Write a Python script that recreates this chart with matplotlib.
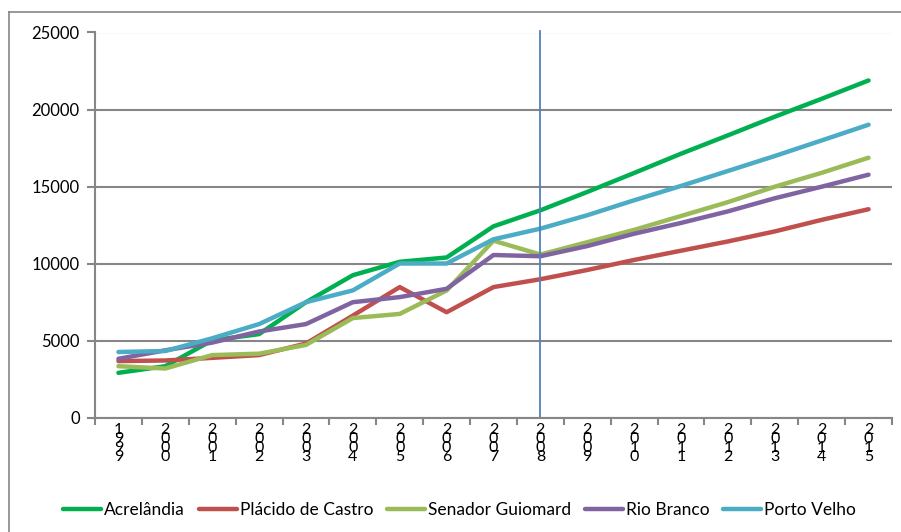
import matplotlib.pyplot as plt
from matplotlib.lines import Line2D

years = [str(y) for y in range(1999, 2016)]

acrelandia = [2930, 3360, 5040, 5440, 7510, 9260, 10130, 10410, 12430, 13470,
              14660, 15890, 17140, 18330, 19540, 20700, 21890]
placido = [3690, 3730, 3900, 4080, 4830, 6640, 8490, 6860, 8490, 9000,
           9600, 10250, 10850, 11450, 12100, 12850, 13540]
senador = [3360, 3210, 4080, 4170, 4740, 6480, 6750, 8270, 11500, 10600,
           11400, 12200, 13100, 14000, 15000, 15900, 16880]
rio_branco = [3840, 4390, 4890, 5610, 6090, 7510, 7840, 8380, 10570, 10490,
              11150, 11950, 12650, 13400, 14250, 15000, 15780]
porto_velho = [4280, 4345, 5170, 6090, 7510, 8275, 10020, 10020, 11590, 12280,
               13150, 14120, 15050, 16020, 16990, 18000, 19020]

series = [
    ("Acrelândia", acrelandia, "#00B050"),
    ("Plácido de Castro", placido, "#C0504D"),
    ("Senador Guiomard", senador, "#9BBB59"),
    ("Rio Branco", rio_branco, "#8064A2"),
    ("Porto Velho", porto_velho, "#4BACC6"),
]

plt.rcParams['font.family'] = ['Lato', 'DejaVu Sans']
grey = "#868686"

fig = plt.figure(figsize=(9.01, 5.32), dpi=100)
ax = fig.add_axes([95 / 901, 1 - 418 / 532, 797 / 901, 385.5 / 532])

x = list(range(len(years)))
for name, vals, col in series:
    ax.plot(x, vals, color=col, lw=3.2, label=name, solid_capstyle='round')

ax.axvline(9, ymin=0, ymax=1.005, color="#4F81BD", lw=1.3, clip_on=False)

ax.set_xlim(-0.5, len(years) - 0.5)
ax.set_ylim(0, 25000)
ax.set_yticks(range(0, 25001, 5000))
ax.set_yticklabels([str(v) for v in range(0, 25001, 5000)], fontsize=12)
ax.grid(axis='y', color=grey, lw=1.5)
ax.set_axisbelow(True)

ax.set_xticks([i - 0.5 for i in range(len(years) + 1)])
ax.set_xticklabels([])
ax.tick_params(axis='x', which='major', length=5, color=grey, width=1.5)
ax.tick_params(axis='y', length=6, color=grey, width=1.5, pad=5)
for i, yr in enumerate(years):
    ax.text(i, -0.012, "\n".join(yr), transform=ax.get_xaxis_transform(),
            ha='center', va='top', fontsize=11.5, linespacing=0.56)

for s in ['top', 'right']:
    ax.spines[s].set_visible(False)
for s in ['left', 'bottom']:
    ax.spines[s].set_color(grey)
    ax.spines[s].set_linewidth(1.5)

fig.legend(loc='center', bbox_to_anchor=(0.51, 0.041), ncol=5, frameon=False,
           fontsize=12.5, handlelength=2.2, handletextpad=0.15, columnspacing=0.8)

fig.add_artist(Line2D([9 / 901, 9 / 901], [0, 1 - 12 / 532], color=grey, lw=1.2))
fig.add_artist(Line2D([9 / 901, 1], [1 - 12 / 532, 1 - 12 / 532], color=grey, lw=1.2))

fig.savefig("out.png", dpi=100)
